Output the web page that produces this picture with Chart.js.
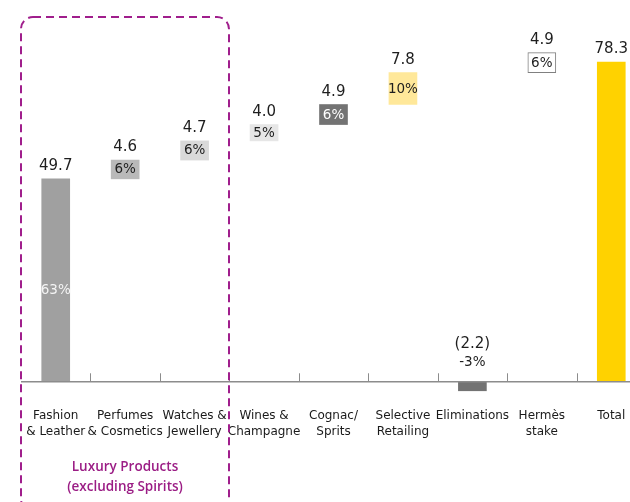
<!DOCTYPE html>
<html>
<head>
<meta charset="utf-8">
<script src="https://cdn.jsdelivr.net/npm/chart.js@4"></script>
<style>
  html, body { margin: 0; padding: 0; background: #ffffff; overflow: hidden; }
  #wrap { position: relative; width: 646px; height: 502px; }
</style>
</head>
<body>
<div id="wrap"><canvas id="chart"></canvas></div>
<script>
// Revenue bridge by business group (EUR bn) and share of total
const categories = [
  ["Fashion", "& Leather"],
  ["Perfumes", "& Cosmetics"],
  ["Watches &", "Jewellery"],
  ["Wines &", "Champagne"],
  ["Cognac/", "Sprits"],
  ["Selective", "Retailing"],
  "Eliminations",
  ["Hermès", "stake"],
  "Total"
];
const values      = [49.7, 4.6, 4.7, 4.0, 4.9, 7.8, -2.2, 4.9, 78.3];
const valueLabels = ["49.7", "4.6", "4.7", "4.0", "4.9", "7.8", "(2.2)", "4.9", "78.3"];
const shareLabels = ["63%", "6%", "6%", "5%", "6%", "10%", "-3%", "6%", ""];
const groupLabel  = ["Luxury Products", "(excluding Spirits)"];

// kind of each step: start bar, floating step, standalone negative, closing total
const kinds = ["start", "step", "step", "step", "step", "step", "neg", "step", "total"];

const fillColors  = ["#a0a0a0", "#b9b9b9", "#d9d9d9", "#e6e6e6", "#737373", "#ffe89a", "#737373", "#ffffff", "#ffd200"];
const shareColors = ["#f4f4f4", "#1e1e1e", "#1e1e1e", "#1e1e1e", "#ffffff", "#1e1e1e", "#1e1e1e", "#1e1e1e", "#1e1e1e"];

// floating [from, to] ranges built from the values
let running = 0;
const ranges = values.map((v, i) => {
  if (kinds[i] === "start") { running = v; return [0, v]; }
  if (kinds[i] === "step")  { const r = [running, running + v]; running += v; return r; }
  return [0, v];
});

const FONT = "'DejaVu Sans', Verdana, sans-serif";

const annotate = {
  id: "annotate",
  afterDatasetsDraw(chart) {
    const { ctx, chartArea, scales: { x, y } } = chart;
    const y0 = y.getPixelForValue(0);
    const meta = chart.getDatasetMeta(0);
    ctx.save();

    // baseline and category separators
    ctx.strokeStyle = "#8c8c8c";
    ctx.lineWidth = 1.5;
    ctx.beginPath();
    ctx.moveTo(chartArea.left, y0);
    ctx.lineTo(chartArea.right, y0);
    ctx.stroke();
    ctx.lineWidth = 1;
    for (let i = 1; i < categories.length; i++) {
      const xb = Math.round((x.getPixelForValue(i - 1) + x.getPixelForValue(i)) / 2) + 0.5;
      ctx.beginPath();
      ctx.moveTo(xb, y0);
      ctx.lineTo(xb, y0 - 8.5);
      ctx.stroke();
    }

    // value and share labels
    ctx.textAlign = "center";
    ctx.textBaseline = "middle";
    meta.data.forEach((bar, i) => {
      const top = Math.min(bar.y, bar.base);
      const bottom = Math.max(bar.y, bar.base);
      ctx.font = "15px " + FONT;
      ctx.fillStyle = "#1e1e1e";
      if (kinds[i] === "neg") {
        ctx.fillText(valueLabels[i], bar.x, y0 - 38);
        ctx.font = "13.5px " + FONT;
        ctx.fillText(shareLabels[i], bar.x, y0 - 19);
        return;
      }
      ctx.fillText(valueLabels[i], bar.x, top - 12.5);
      if (shareLabels[i]) {
        ctx.font = "13.5px " + FONT;
        ctx.fillStyle = shareColors[i];
        const yMid = kinds[i] === "start" ? (top + bottom) / 2 + 10 : (top + bottom) / 2;
        ctx.fillText(shareLabels[i], bar.x, yMid + 0.5);
      }
    });

    // dashed group frame around the first three categories
    const left = chartArea.left;
    const right = Math.round((x.getPixelForValue(2) + x.getPixelForValue(3)) / 2);
    ctx.strokeStyle = "#a01e8c";
    ctx.lineWidth = 2;
    ctx.setLineDash([8, 5]);
    ctx.beginPath();
    ctx.roundRect(left, 17, right - left, 494, 12);
    ctx.stroke();
    ctx.setLineDash([]);

    ctx.fillStyle = "#9b1d85";
    ctx.font = "600 13.5px 'Open Sans', sans-serif";
    const cx = (left + right) / 2;
    ctx.fillText(groupLabel[0], cx, 467);
    ctx.fillText(groupLabel[1], cx, 487);

    ctx.restore();
  }
};

new Chart(document.getElementById("chart"), {
  type: "bar",
  data: {
    labels: categories,
    datasets: [{
      data: ranges,
      backgroundColor: fillColors,
      borderColor: fillColors.map(c => c === "#ffffff" ? "#808080" : c),
      borderWidth: fillColors.map(c => c === "#ffffff" ? 1 : 0),
      borderSkipped: false,
      barThickness: 28
    }]
  },
  options: {
    responsive: true,
    maintainAspectRatio: false,
    animation: false,
    layout: { padding: { left: 21, right: 0, top: 0, bottom: 0 } },
    plugins: { legend: { display: false }, tooltip: { enabled: false } },
    scales: {
      x: {
        grid: { display: false, drawTicks: false },
        border: { display: false },
        ticks: {
          color: "#1a1a1a",
          padding: 15.5,
          maxRotation: 0,
          autoSkip: false,
          font: { family: FONT, size: 12, lineHeight: 1.36 }
        },
        afterFit: (scale) => { scale.height = 110; }
      },
      y: {
        display: false,
        min: -2.5,
        max: 93.5
      }
    }
  },
  plugins: [annotate]
});
</script>
</body>
</html>
